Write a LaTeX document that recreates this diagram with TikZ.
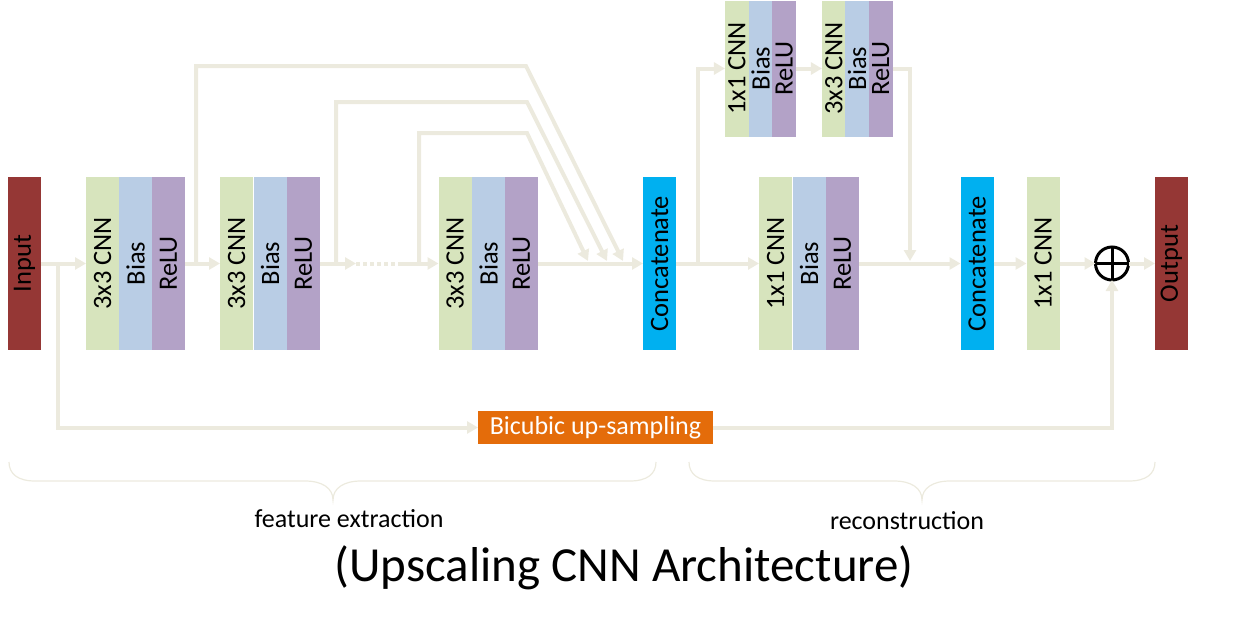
\documentclass[tikz,border=0pt]{standalone}
\usepackage{fontspec}
\usepackage{graphicx}
\setmainfont{Carlito}
\usetikzlibrary{arrows.meta}
\definecolor{lnc}{RGB}{236,234,222}
\definecolor{cgreen}{RGB}{215,228,189}
\definecolor{cblue}{RGB}{185,205,229}
\definecolor{cpurple}{RGB}{179,162,199}
\definecolor{cred}{RGB}{149,55,53}
\definecolor{ccyan}{RGB}{0,176,240}
\definecolor{corange}{RGB}{228,108,10}
\newcommand\vtxt[1]{\rotatebox{90}{#1}}
\begin{document}
\begin{tikzpicture}[x=1pt,y=-1pt,
  lay/.style={minimum width=33pt,minimum height=173pt,inner sep=0pt,outer sep=0pt,font=\fontsize{26.5}{26.5}\selectfont},
  tlay/.style={lay,minimum width=23.7pt,minimum height=136pt},
  gr/.style={fill=cgreen},
  bl/.style={fill=cblue},
  pu/.style={fill=cpurple},
  ln/.style={draw=lnc,line width=4pt},
  arr/.style={ln,-{Triangle[length=11pt,width=12pt]}},
  brace/.style={draw=lnc,line width=1.2pt},
  lbl/.style={font=\fontsize{26}{26}\selectfont,inner sep=0pt}
]
\useasboundingbox (0,0) rectangle (1256,627);
% main row
\node[lay,fill=cred] (in) at (24.5,263.5) {\vtxt{Input}};
\node[lay,gr] (b1c) at (102.5,263.5) {\vtxt{3x3 CNN}};
\node[lay,bl] (b1b) at (135.5,263.5) {\vtxt{Bias}};
\node[lay,pu] (b1r) at (168.5,263.5) {\vtxt{ReLU}};
\node[lay,gr] (b2c) at (236.5,263.5) {\vtxt{3x3 CNN}};
\node[lay,bl] (b2b) at (270,263.5) {\vtxt{Bias}};
\node[lay,pu] (b2r) at (303.5,263.5) {\vtxt{ReLU}};
\node[lay,gr] (b3c) at (455,263.5) {\vtxt{3x3 CNN}};
\node[lay,bl] (b3b) at (488.5,263.5) {\vtxt{Bias}};
\node[lay,pu] (b3r) at (521.5,263.5) {\vtxt{ReLU}};
\node[lay,fill=ccyan] (cat1) at (659.5,263.5) {\vtxt{Concatenate}};
\node[lay,gr] (m1c) at (775.5,263.5) {\vtxt{1x1 CNN}};
\node[lay,bl] (m1b) at (809,263.5) {\vtxt{Bias}};
\node[lay,pu] (m1r) at (842.5,263.5) {\vtxt{ReLU}};
\node[lay,fill=ccyan] (cat2) at (977,263.5) {\vtxt{Concatenate}};
\node[lay,gr] (c11) at (1043,263.5) {\vtxt{1x1 CNN}};
\node[draw=black,line width=3pt,circle,minimum size=33pt,inner sep=0pt,outer sep=0pt] (op) at (1112,263.5) {};
\draw[black,line width=3pt] (op.north) -- (op.south) (op.west) -- (op.east);
\node[lay,fill=cred] (out) at (1171.5,263.5) {\vtxt{Output}};
% top row
\node[tlay,gr] (t1c) at (736.8,68.5) {\vtxt{1x1 CNN}};
\node[tlay,bl] (t1b) at (760.5,68.5) {\vtxt{Bias}};
\node[tlay,pu] (t1r) at (784.2,68.5) {\vtxt{ReLU}};
\node[tlay,gr] (t2c) at (833.8,68.5) {\vtxt{3x3 CNN}};
\node[tlay,bl] (t2b) at (857.2,68.5) {\vtxt{Bias}};
\node[tlay,pu] (t2r) at (880.8,68.5) {\vtxt{ReLU}};
% bicubic
\node[fill=corange,minimum width=235pt,minimum height=33pt,inner sep=0pt,outer sep=0pt,text=white,font=\fontsize{26}{26}\selectfont] (bic) at (595.5,427.5) {Bicubic up-sampling};
% coordinates
\coordinate (s0) at (58,263.5);
\coordinate (s1) at (196,263.5);
\coordinate (s2) at (336,263.5);
\coordinate (s3) at (419,263.5);
\coordinate (k1) at (623,261);
\coordinate (k2) at (607,261);
\coordinate (k3) at (588,261);
\coordinate (d1) at (356,263.5);
\coordinate (d2) at (401,263.5);
\coordinate (s4) at (698,263.5);
\coordinate (s5) at (910,261);
% main connectors
\draw[arr] (in.east) -- (b1c.west);
\draw[arr] (b1r.east) -- (b2c.west);
\draw[arr] (b2r.east) -- (d1);
\draw[ln,dash pattern=on 4pt off 3pt] (d1) -- (d2);
\draw[arr] (d2) -- (b3c.west);
\draw[arr] (b3r.east) -- (cat1.west);
\draw[arr] (cat1.east) -- (m1c.west);
\draw[arr] (m1r.east) -- (cat2.west);
\draw[arr] (cat2.east) -- (c11.west);
\draw[arr] (c11.east) -- (op.west);
\draw[arr] (op.east) -- (out.west);
% skip connections
\draw[arr] (s1) -- (196,66) -- (526,66) -- (k1);
\draw[arr] (s2) -- (336,102) -- (527,102) -- (k2);
\draw[arr] (s3) -- (419,133) -- (527,133) -- (k3);
\draw[arr] (s4) |- (t1c.west);
\draw[arr] (t1r.east) -- (t2c.west);
\draw[arr] (t2r.east) -| (s5);
\draw[arr] (s0) |- (bic.west);
\draw[arr] (bic.east) -| (op.south);
% braces
\draw[brace] (9,462) .. controls (9,474) and (18,481) .. (35,481) -- (305,481) .. controls (322,481) and (333,488) .. (333,500) .. controls (333,488) and (344,481) .. (361,481) -- (630,481) .. controls (647,481) and (656,474) .. (656,462);
\draw[brace] (689,462) .. controls (689,474) and (698,481) .. (715,481) -- (894,481) .. controls (911,481) and (922,488) .. (922,500) .. controls (922,488) and (933,481) .. (950,481) -- (1129,481) .. controls (1146,481) and (1155,474) .. (1155,462);
% labels
\node[lbl] (fe) at (349,519) {feature extraction};
\node[lbl] (rc) at (907,521) {reconstruction};
\node[font=\fontsize{49}{49}\selectfont,inner sep=0pt] (title) at (624,568) {(Upscaling CNN Architecture)};
\end{tikzpicture}
\end{document}
